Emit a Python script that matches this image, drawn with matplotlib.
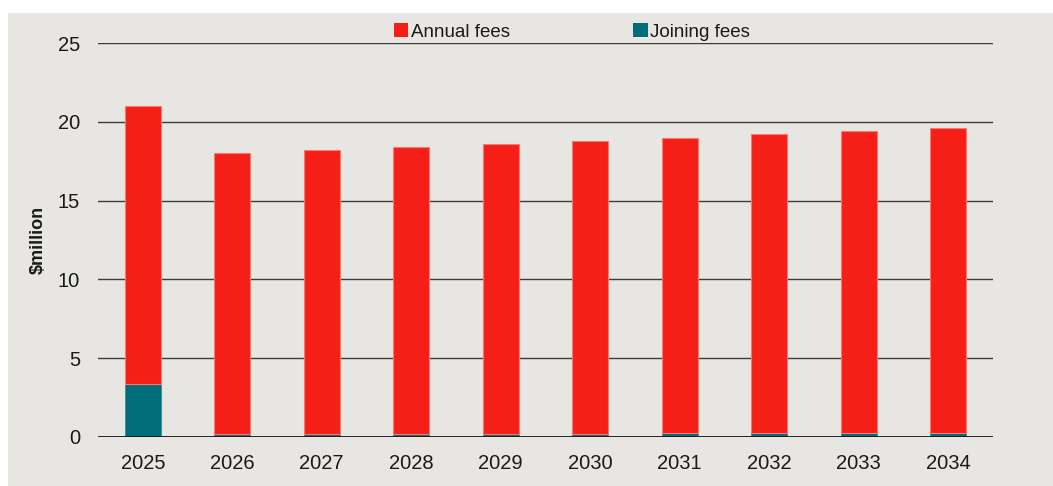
import matplotlib
matplotlib.use("Agg")
import matplotlib.pyplot as plt
from matplotlib.patches import Rectangle, Patch
import numpy as np

years = ["2025", "2026", "2027", "2028", "2029", "2030", "2031", "2032", "2033", "2034"]
joining_fees = [3.35, 0.2, 0.2, 0.2, 0.2, 0.2, 0.25, 0.25, 0.25, 0.25]
total_fees = [21.0, 18.0, 18.2, 18.4, 18.6, 18.8, 19.0, 19.2, 19.4, 19.6]
annual_fees = [t - j for t, j in zip(total_fees, joining_fees)]
y_ticks = [0, 5, 10, 15, 20, 25]

RED = "#F61F17"
TEAL = "#006D7A"
PANEL = "#E8E6E2"
INK = "#1a1a1a"

plt.rcParams["font.family"] = ["Liberation Sans", "DejaVu Sans"]

fig = plt.figure(figsize=(10.53, 4.86), dpi=100)
fig.patch.set_facecolor("white")
fig.patches.append(Rectangle((8 / 1053, 0), 1, (486 - 13) / 486,
                             transform=fig.transFigure, facecolor=PANEL,
                             edgecolor="none", zorder=-10))

ax = fig.add_axes([98 / 1053, 1 - 437 / 486, 895 / 1053, 394 / 486])
ax.set_facecolor("none")
ax.set_zorder(1)

x = np.arange(len(years))
ax.bar(x, joining_fees, width=0.4, color=TEAL, edgecolor="#3d8a94",
       linewidth=0.6, zorder=3)
ax.bar(x, annual_fees, width=0.4, bottom=joining_fees, color=RED,
       edgecolor="#f77a72", linewidth=0.8, zorder=3)

ax.set_xlim(-0.5, len(years) - 0.5)
ax.set_ylim(0, 25)
ax.set_yticks(y_ticks)
ax.set_xticks(x)
ax.set_xticklabels(years)
ax.yaxis.grid(True, color="#3c3c3c", linewidth=1.0, zorder=1)
ax.set_axisbelow(True)
ax.axhline(0, color=INK, linewidth=1.3, zorder=4)

for s in ax.spines.values():
    s.set_visible(False)
ax.tick_params(axis="both", length=0, labelsize=14.5, colors=INK)
ax.tick_params(axis="y", pad=13)
ax.tick_params(axis="x", pad=12)

ax.set_ylabel("$million", fontsize=13, fontweight="bold", color=INK,
              labelpad=8)

handles = [Patch(facecolor=RED, edgecolor="none", label="Annual fees"),
           Patch(facecolor=TEAL, edgecolor="none", label="Joining fees")]
fig.legend(handles=handles, loc="center", bbox_to_anchor=(572 / 1053, 1 - 32 / 486),
           ncol=2, frameon=False, handlelength=0.75,
           handleheight=0.75, handletextpad=0.15, columnspacing=6.6,
           labelcolor=INK, prop={"size": 13.5})

fig.savefig("out.png", dpi=100, facecolor=fig.get_facecolor())
